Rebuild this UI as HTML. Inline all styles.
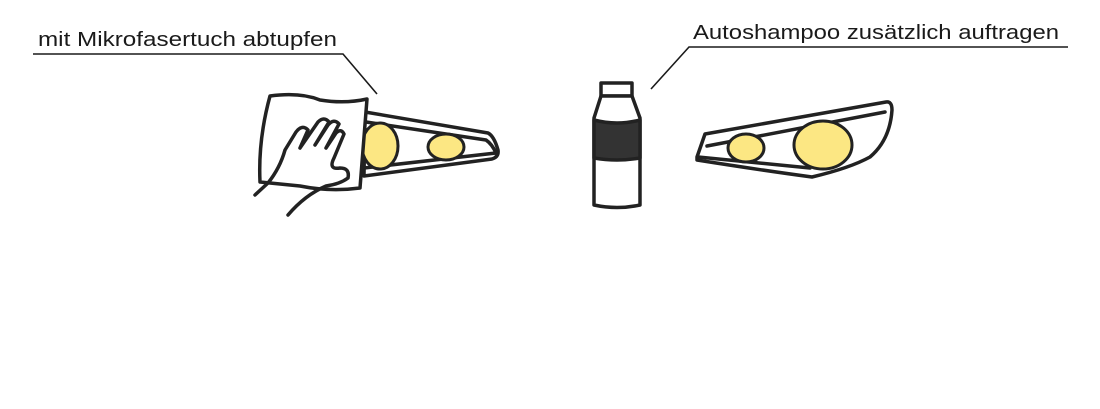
<!DOCTYPE html>
<html><head><meta charset="utf-8"><style>
html,body{margin:0;padding:0;background:#fff;}
svg{display:block;}
text{font-family:"Liberation Sans",sans-serif;font-size:20px;fill:#1a1a1a;}
</style></head><body>
<svg width="1100" height="409" viewBox="0 0 1100 409" xmlns="http://www.w3.org/2000/svg">
<rect width="1100" height="409" fill="#fff"/>
<text x="38" y="46" textLength="299" lengthAdjust="spacingAndGlyphs">mit Mikrofasertuch abtupfen</text>
<polyline points="33,54 343,54 377,94" fill="none" stroke="#1a1a1a" stroke-width="1.6"/>
<text x="693" y="39" textLength="366" lengthAdjust="spacingAndGlyphs">Autoshampoo zusätzlich auftragen</text>
<polyline points="1068,47 689,47 651,89" fill="none" stroke="#1a1a1a" stroke-width="1.6"/>

<g fill="none" stroke="#222" stroke-width="3.5" stroke-linejoin="round" stroke-linecap="round">
<!-- left headlight -->
<path d="M365,112 L488,133 Q494,136 498,150 Q499,157 492,159 L364,176 Z" fill="#fff"/>
<path d="M366,122 L486,140 Q492,144 496,153"/>
<path d="M364,168 L496,153"/>
<ellipse cx="380" cy="146" rx="18" ry="23" fill="#fce783" stroke-width="3"/>
<ellipse cx="446" cy="147" rx="18" ry="13" fill="#fce783" stroke-width="3"/>
<!-- cloth -->
<path d="M270,96 Q300,92 320,100 Q345,104 367,99 L360,188 Q330,192 300,186 L260,182 Q258,140 270,96 Z" fill="#fff"/>
<!-- hand -->
<path d="M255,195 L268,183 Q280,168 285,150 L296,132 Q302,124 308,130 L300,148 M300,148 L318,122 Q324,116 329,122 L315,145 M315,145 L328,125 Q334,118 339,124 L326,148 M326,148 L336,133 Q341,128 344,134 L334,158 Q328,170 340,168 Q350,168 348,178 Q340,184 326,186 Q305,195 288,215" fill="none"/>
<!-- bottle -->
<path d="M601,83 L632,83 L632,96 L601,96 Z" fill="#fff"/>
<path d="M601,96 L632,96 L640,118 L640,205 Q617,210 594,205 L594,118 Z" fill="#fff"/>
<path d="M594,120 Q617,126 640,120 L640,158 Q617,162 594,158 Z" fill="#333"/>
<!-- right headlight -->
<path d="M697,157 L705,134 L886,102 Q892,101 892,110 Q890,140 870,157 Q850,168 812,177 Q760,170 697,160 Z" fill="#fff"/>
<path d="M707,146 L885,112"/>
<path d="M698,157 L810,168"/>
<ellipse cx="746" cy="148" rx="18" ry="14" fill="#fce783" stroke-width="3"/>
<ellipse cx="823" cy="145" rx="29" ry="24" fill="#fce783" stroke-width="3"/>
</g>
</svg>
</body></html>
